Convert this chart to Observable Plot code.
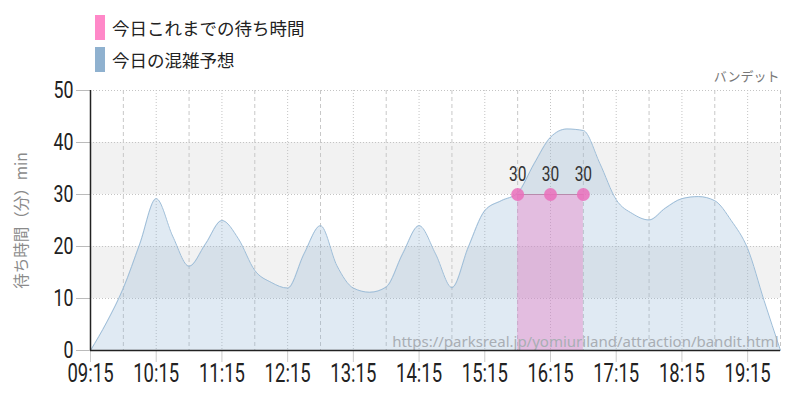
<!DOCTYPE html>
<html><head><meta charset="utf-8">
<script src="https://cdn.jsdelivr.net/npm/d3@7"></script>
<script src="https://cdn.jsdelivr.net/npm/@observablehq/plot@0.6"></script>
<style>
body{margin:0;background:#fff;width:800px;height:400px;overflow:hidden;font-family:"Noto Sans CJK JP",sans-serif}
#head{position:relative;height:60px;z-index:1}
.sw{position:absolute;left:95px;width:10px;height:25px}
.lt{position:absolute;left:112px;font-size:17.5px;color:#222;line-height:25px}
svg{display:block}
</style></head><body>
<div id="head">
  <div class="sw" style="top:15px;background:#ff88c8"></div><div class="lt" style="top:15px">今日これまでの待ち時間</div>
  <div class="sw" style="top:47px;background:#8fb1cf"></div><div class="lt" style="top:47px">今日の混雑予想</div>
</div>
<div id="chart"></div>
<script>
const times = ["09:15","09:30","09:45","10:00","10:15","10:30","10:45","11:00","11:15","11:30","11:45","12:00","12:15","12:30","12:45","13:00","13:15","13:30","13:45","14:00","14:15","14:30","14:45","15:00","15:15","15:30","15:45","16:00","16:15","16:30","16:45","17:00","17:15","17:30","17:45","18:00","18:15","18:30","18:45","19:00","19:15","19:30","19:45"];
const predicted = [0,5.5,12,20.5,29.2,22,16.2,20.5,25,21.5,15.4,13.1,12,18.6,24,16.3,12,11.2,12.2,18.6,24,18.6,12.1,19.9,26.9,28.8,30.3,35.9,41,42.6,42.3,36,29,26.3,25.1,27.4,29.2,29.6,28.8,25,19.6,9.6,0];
const actualTimes = ["15:45","16:15","16:45"];
const actualValues = [30,30,30];
const hourTicks = ["09:15","10:15","11:15","12:15","13:15","14:15","15:15","16:15","17:15","18:15","19:15"];
const halfTicks = ["09:45","10:45","11:45","12:45","13:45","14:45","15:45","16:45","17:45","18:45","19:45"];
const yTicks = [0,10,20,30,40,50];
const bandStarts = [10,30];
const yLabel = "待ち時間（分）min";
const rideName = "バンデット";
const url = "https://parksreal.jp/yomiuriland/attraction/bandit.html";

const parse = d3.utcParse("%H:%M");
const pred = times.map((t,i)=>({t:parse(t), v:predicted[i]}));
const act = actualTimes.map((t,i)=>({t:parse(t), v:actualValues[i]}));
const hours = hourTicks.map(parse), halves = halfTicks.map(parse);
const numFont = 'Roboto,sans-serif';

const chart = Plot.plot({
  width: 800, height: 340,
  marginTop: 30, marginBottom: 50, marginLeft: 90, marginRight: 20,
  x: {type: "utc", domain: [parse("09:15"), parse("19:45")]},
  y: {domain: [0, 50]},
  style: {fontFamily: '"Noto Sans CJK JP",sans-serif', background: "#fff"},
  marks: [
    Plot.rect(bandStarts, {y1: d => d, y2: d => d + 10, fill: "#f2f2f2"}),
    Plot.ruleY(yTicks.slice(1), {stroke: "#c4c4c4", strokeDasharray: "1,2"}),
    Plot.ruleX(hours, {stroke: "#c4c4c4", strokeDasharray: "1,2"}),
    Plot.ruleX(halves, {stroke: "#c8c8c8", strokeDasharray: "4,3"}),
    Plot.areaY(pred, {x: "t", y: "v", fill: "#8fb4d4", fillOpacity: 0.28, curve: "monotone-x"}),
    Plot.lineY(pred, {x: "t", y: "v", stroke: "#9dbdd8", strokeWidth: 1, curve: "monotone-x"}),
    Plot.areaY(act, {x: "t", y: "v", fill: "#e87bc4", fillOpacity: 0.4}),
    Plot.lineY(act, {x: "t", y: "v", stroke: "#b88aac", strokeWidth: 1}),
    Plot.dot(act, {x: "t", y: "v", r: 6.5, fill: "#ea6fbb", fillOpacity: 0.85}),
    Plot.text(act, {x: "t", y: "v", text: d => String(d.v), dy: -20, fontSize: 21, fill: "#333", fontFamily: numFont}),
    Plot.text([url], {text: d => d, frameAnchor: "bottom-right", dx: -2, dy: -4, fill: "#a9aeb4", fontSize: 15, fontFamily: '"Noto Sans",sans-serif'}),
    Plot.text([rideName], {text: d => d, frameAnchor: "top-right", dx: -1, dy: -19, fill: "#777", fontSize: 13}),
    Plot.text([yLabel], {text: d => d, frameAnchor: "left", dx: -68, rotate: -90, textAnchor: "middle", fill: "#8a8a8a", fontSize: 15.5}),
    Plot.axisX(hours, {tickFormat: d3.utcFormat("%H:%M"), tickSize: 12, stroke: "#ccc", fill: "#222", fontSize: 25, tickPadding: 2, label: null, fontFamily: numFont}),
    Plot.axisY(yTicks, {tickSize: 14, tickPadding: 3, stroke: "#bbb", fill: "#222", fontSize: 24, label: null, fontFamily: numFont}),
    Plot.ruleX([parse("09:15")], {stroke: "#222", strokeWidth: 1.5}),
    Plot.ruleY([0], {stroke: "#222", strokeWidth: 1.5})
  ]
});
// condense numeric labels horizontally
chart.querySelectorAll("text").forEach(t => {
  if (!/^[0-9:]+$/.test(t.textContent.trim())) return;
  const tr = t.getAttribute("transform");
  if (tr) t.setAttribute("transform", tr + " scale(0.74,1)");
  else {
    const x = t.getAttribute("x") || 0, y = t.getAttribute("y") || 0;
    t.removeAttribute("x"); t.removeAttribute("y");
    t.setAttribute("transform", `translate(${x},${y}) scale(0.74,1)`);
  }
});
document.getElementById("chart").appendChild(chart);
</script>
</body></html>
